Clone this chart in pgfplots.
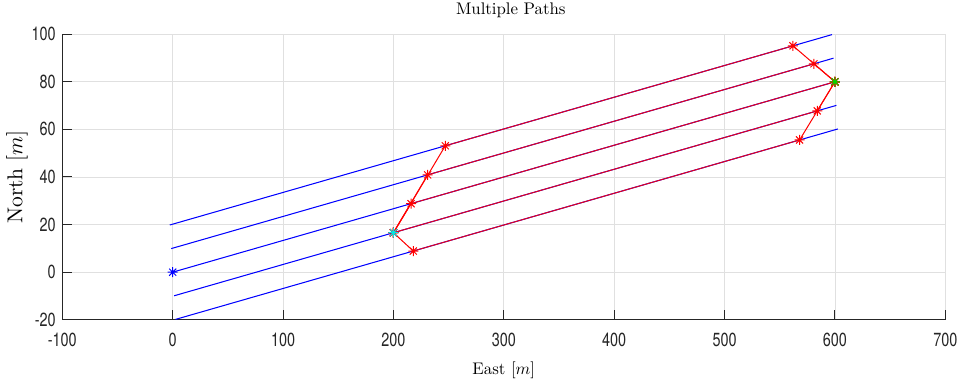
\documentclass[border=0pt]{standalone}
\usepackage{fontspec}
\usepackage{graphicx}
\usepackage{pgfplots}
\pgfplotsset{compat=1.18}
\newfontfamily\ticksfont{TeX Gyre Heros}

\definecolor{axgray}{gray}{0.15}
\definecolor{gridgray}{gray}{0.88}
\definecolor{mblue}{rgb}{0,0,1}
\definecolor{mred}{rgb}{1,0,0}
\definecolor{mcyan}{rgb}{0,0.9,0.9}
\definecolor{mgreen}{rgb}{0,0.85,0}

% eight-armed asterisk (plus and cross overlaid)
\pgfdeclareplotmark{star8}{%
  \pgfpathmoveto{\pgfqpoint{-\pgfplotmarksize}{0pt}}%
  \pgfpathlineto{\pgfqpoint{\pgfplotmarksize}{0pt}}%
  \pgfpathmoveto{\pgfqpoint{0pt}{-\pgfplotmarksize}}%
  \pgfpathlineto{\pgfqpoint{0pt}{\pgfplotmarksize}}%
  \pgfpathmoveto{\pgfqpoint{-.7071\pgfplotmarksize}{-.7071\pgfplotmarksize}}%
  \pgfpathlineto{\pgfqpoint{.7071\pgfplotmarksize}{.7071\pgfplotmarksize}}%
  \pgfpathmoveto{\pgfqpoint{-.7071\pgfplotmarksize}{.7071\pgfplotmarksize}}%
  \pgfpathlineto{\pgfqpoint{.7071\pgfplotmarksize}{-.7071\pgfplotmarksize}}%
  \pgfusepathqstroke}

\begin{document}
\begin{tikzpicture}
\begin{axis}[
  scale only axis,
  width=883pt, height=285.6pt,
  xmin=-100, xmax=700, ymin=-20, ymax=100,
  xtick={-100,0,...,700}, ytick={-20,0,...,100},
  axis lines*=left,
  axis line style={axgray, line width=1pt},
  xtick pos=bottom, ytick pos=left,
  tick align=inside, major tick length=10pt,
  tick style={axgray, line width=1pt},
  grid=major, major grid style={gridgray, line width=0.8pt},
  xticklabel={\scalebox{0.76}[1]{\pgfmathprintnumber[assume math mode=true]{\tick}}},
  yticklabel={\scalebox{0.76}[1]{\pgfmathprintnumber[assume math mode=true]{\tick}}},
  ticklabel style={font=\ticksfont\fontsize{19}{20}\selectfont, text=axgray},
  xticklabel style={yshift=-10pt},
  yticklabel style={xshift=-3pt},
  title={\scalebox{1.68}{Multiple Paths}},
  title style={font=\fontsize{10}{12}\selectfont, anchor=base,
    at={(axis description cs:0.5,1)}, yshift=13.2pt, xshift=7pt},
  xlabel={\scalebox{1.68}{East [$m$]}},
  xlabel style={font=\fontsize{10}{12}\selectfont, anchor=base,
    at={(axis description cs:0.5,0)}, yshift=-54.7pt},
  ylabel={\scalebox{2.15}{North [$m$]}},
  ylabel style={font=\fontsize{10}{12}\selectfont, anchor=base,
    at={([xshift=-39.8pt]axis description cs:0,0.5)}},
]
% parallel lanes, offset perpendicular to the (0,0)-(600,80) track
\addplot[mblue, line width=1pt] coordinates {(-2.643,19.825) (597.357,99.825)};
\addplot[mblue, line width=1pt] coordinates {(-1.322,9.912) (598.678,89.912)};
\addplot[mblue, line width=1pt] coordinates {(0,0) (600,80)};
\addplot[mblue, line width=1pt] coordinates {(1.322,-9.912) (601.322,70.088)};
\addplot[mblue, line width=1pt] coordinates {(2.643,-19.825) (602.643,60.175)};

% candidate paths from the branch point to the goal
\pgfplotsset{path style/.style={mred, line width=1pt, mark=star8, mark size=5pt,
  mark options={solid, line width=1pt}}}
\addplot[path style] coordinates {(200,16.58) (247,53.11) (562,95.11) (600,80)};
\addplot[path style] coordinates {(200,16.58) (231,40.89) (581,87.56) (600,80)};
\addplot[path style] coordinates {(200,16.58) (216,28.80) (600,80)};
\addplot[path style] coordinates {(200,16.58) (584,67.78) (600,80)};
\addplot[path style] coordinates {(200,16.58) (218,8.89) (568,55.56) (600,80)};

% lane tint where paths run along the lanes
\addplot[mblue, line width=1pt, opacity=0.12] coordinates {(-2.643,19.825) (597.357,99.825)};
\addplot[mblue, line width=1pt, opacity=0.12] coordinates {(-1.322,9.912) (598.678,89.912)};
\addplot[mblue, line width=1pt, opacity=0.12] coordinates {(0,0) (600,80)};
\addplot[mblue, line width=1pt, opacity=0.12] coordinates {(1.322,-9.912) (601.322,70.088)};
\addplot[mblue, line width=1pt, opacity=0.12] coordinates {(2.643,-19.825) (602.643,60.175)};

% start, branch and goal points
\addplot[only marks, mark=star8, mark size=5pt, mblue, mark options={line width=1pt}] coordinates {(0,0)};
\addplot[only marks, mark=star8, mark size=5pt, mcyan, mark options={line width=1pt}] coordinates {(200,16.58)};
\addplot[only marks, mark=star8, mark size=5pt, mgreen, mark options={line width=1pt}] coordinates {(600,80)};

\coordinate (sw) at (rel axis cs:0,0);
\coordinate (ne) at (rel axis cs:1,1);
\end{axis}
\path ([shift={(-62.3pt,-64.7pt)}]sw) rectangle ([shift={(15.7pt,32.7pt)}]ne);
\end{tikzpicture}
\end{document}
